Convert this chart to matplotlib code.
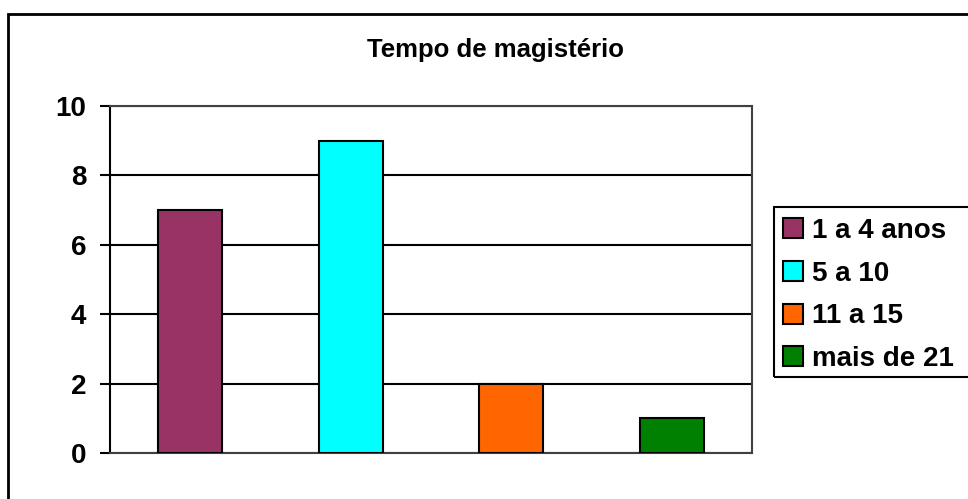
import matplotlib.pyplot as plt
from matplotlib.patches import Rectangle, Patch

# data
categories = ["1 a 4 anos", "5 a 10", "11 a 15", "mais de 21"]
values = [7, 9, 2, 1]
colors = ["#993366", "#00FFFF", "#FF6600", "#008000"]
title = "Tempo de magistério"

plt.rcParams["font.family"] = ["Liberation Sans", "DejaVu Sans"]
plt.rcParams["font.weight"] = "bold"

W, H = 968, 499
fig = plt.figure(figsize=(W / 100, H / 100), dpi=100)

# outer chart frame (runs off the right and bottom edges)
fig.patches.append(Rectangle((8 / W, -0.1), 1.2, 1 - 14 / H + 0.1, transform=fig.transFigure,
                             fill=False, edgecolor="black", linewidth=2))

ax = fig.add_axes([110 / W, 1 - 453 / H, (752 - 110) / W, (453 - 106) / H])
x = range(len(categories))
for i in x:
    ax.bar(i, values[i], width=0.4, color=colors[i], edgecolor="black", linewidth=1.5,
           label=categories[i], zorder=3)

ax.set_xlim(-0.5, len(categories) - 0.5)
ax.set_ylim(0, 10)
ax.set_yticks(range(0, 11, 2))
ax.set_xticks([])
ax.yaxis.grid(True, color="black", linewidth=1.5, zorder=0)
ax.tick_params(axis="y", direction="out", length=7, width=1.5, pad=10, labelsize=20)
for s in ["top", "right", "bottom"]:
    ax.spines[s].set_color("#404040")
    ax.spines[s].set_linewidth(1.5)
ax.spines["left"].set_color("black")
ax.spines["left"].set_linewidth(1.5)

fig.text(496 / W, 1 - 50 / H, title, ha="center", va="center", fontsize=18.5, fontweight="bold")

# legend with its own frame
handles = [Patch(facecolor=c, edgecolor="black", linewidth=1.5) for c in colors]
fig.legend(handles, categories, loc="upper left", bbox_to_anchor=(783 / W, 1 - 218 / H),
           frameon=False, fontsize=20, handlelength=0.72, handleheight=0.72,
           handletextpad=0.32, labelspacing=0.6, borderpad=0, borderaxespad=0)
fig.patches.append(Rectangle((774 / W, 1 - 377 / H), 0.3, (377 - 207) / H, transform=fig.transFigure,
                             fill=False, edgecolor="black", linewidth=1.5))

fig.savefig("out.png", dpi=100)
